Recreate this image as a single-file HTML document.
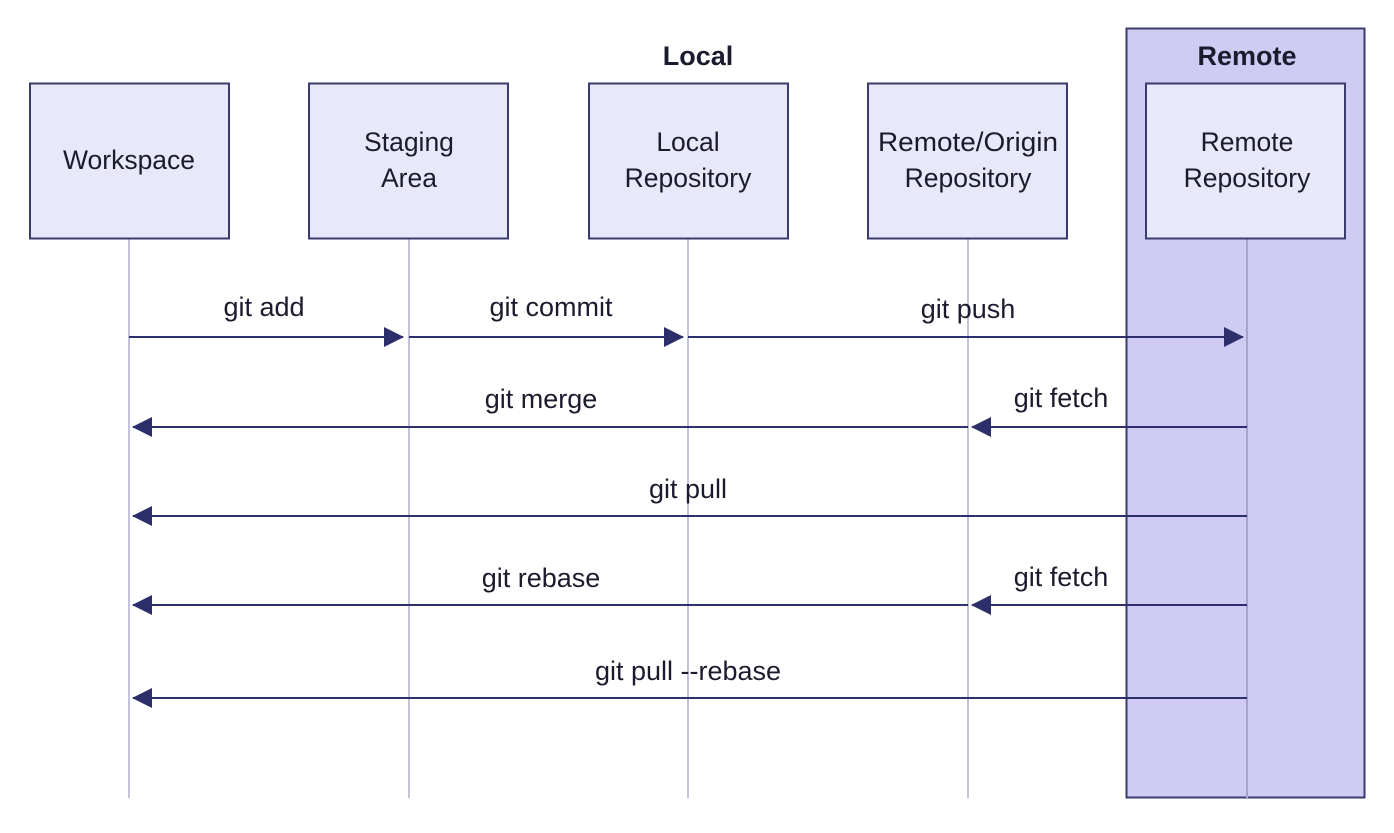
<!DOCTYPE html>
<html><head><meta charset="utf-8"><style>
body{margin:0;background:#fff;}
text{font-family:"Liberation Sans",sans-serif;fill:#1b1b2e;}
</style></head><body>
<svg width="1394" height="828" xmlns="http://www.w3.org/2000/svg">
<defs><marker id="a" markerWidth="20" markerHeight="20" refX="19" refY="10" orient="auto" markerUnits="userSpaceOnUse"><path d="M0,0 L20,10 L0,20 z" fill="#2d2f6a"/></marker></defs>
<rect x="1126.5" y="28.5" width="238" height="769" fill="#cfcbf2" stroke="#3b3c6e" stroke-width="2"/>
<text x="698" y="65" font-size="27" font-weight="bold" text-anchor="middle">Local</text>
<text x="1247" y="65" font-size="27" font-weight="bold" text-anchor="middle">Remote</text>
<g stroke="#c3c3dc" stroke-width="2">
<line x1="129" y1="239" x2="129" y2="798"/><line x1="409" y1="239" x2="409" y2="798"/><line x1="688" y1="239" x2="688" y2="798"/><line x1="968" y1="239" x2="968" y2="798"/><line x1="1247" y1="239" x2="1247" y2="798" stroke="#a6a3cc"/>
</g>
<g fill="#e8e8fb" stroke="#3b3c6e" stroke-width="2">
<rect x="30" y="83.5" width="199" height="155"/><rect x="309" y="83.5" width="199" height="155"/><rect x="589" y="83.5" width="199" height="155"/><rect x="868" y="83.5" width="199" height="155"/><rect x="1146" y="83.5" width="199" height="155"/>
</g>
<g font-size="26.5" text-anchor="middle">
<text x="129" y="169">Workspace</text>
<text x="409" y="151">Staging</text><text x="409" y="187">Area</text>
<text x="688" y="151">Local</text><text x="688" y="187">Repository</text>
<text x="968" y="151" textLength="180" lengthAdjust="spacingAndGlyphs">Remote/Origin</text><text x="968" y="187">Repository</text>
<text x="1247" y="151">Remote</text><text x="1247" y="187">Repository</text>
</g>
<g stroke="#2d2f6a" stroke-width="2" marker-end="url(#a)">
<line x1="129" y1="337" x2="403" y2="337"/>
<line x1="409" y1="337" x2="683" y2="337"/>
<line x1="688" y1="337" x2="1243" y2="337"/>
<line x1="968" y1="427" x2="133" y2="427"/>
<line x1="1247" y1="427" x2="972" y2="427"/>
<line x1="1247" y1="516" x2="133" y2="516"/>
<line x1="968" y1="605" x2="133" y2="605"/>
<line x1="1247" y1="605" x2="972" y2="605"/>
<line x1="1247" y1="698" x2="133" y2="698"/>
</g>
<g font-size="27" text-anchor="middle">
<text x="264" y="316">git add</text>
<text x="551" y="316">git commit</text>
<text x="968" y="318">git push</text>
<text x="541" y="408">git merge</text>
<text x="1061" y="407">git fetch</text>
<text x="688" y="498">git pull</text>
<text x="541" y="587">git rebase</text>
<text x="1061" y="586">git fetch</text>
<text x="688" y="680">git pull --rebase</text>
</g>
</svg>
</body></html>
